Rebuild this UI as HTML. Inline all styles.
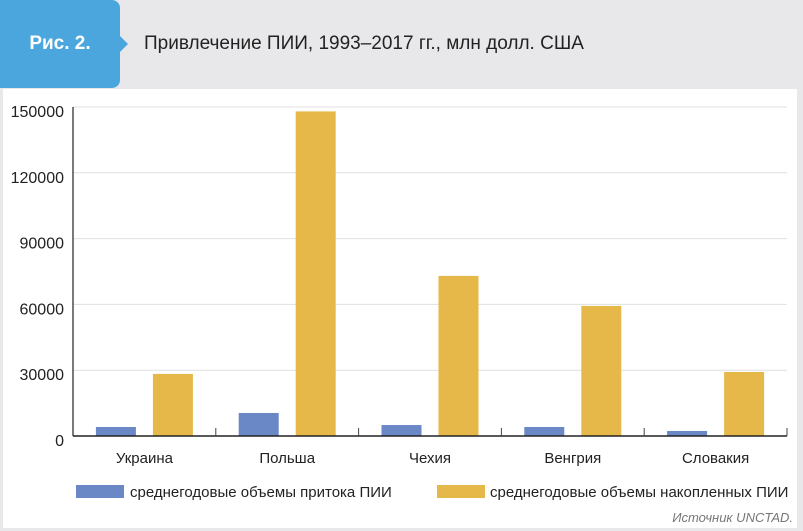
<!DOCTYPE html>
<html><head><meta charset="utf-8"><style>
body{margin:0;width:803px;height:531px;background:#e8e8ea;font-family:"Liberation Sans",sans-serif;position:relative;overflow:hidden}
#panel{position:absolute;left:3px;top:89px;width:794px;height:439px;background:#fff}
#tab{position:absolute;left:0;top:0;width:120px;height:88px;background:#4aa6dd;border-radius:0 8px 8px 0;color:#fff;font-weight:bold;font-size:19px;line-height:88px;text-align:center}
#tab:after{content:"";position:absolute;right:-8px;top:36px;border-left:8px solid #4aa6dd;border-top:8px solid transparent;border-bottom:8px solid transparent}
#title{position:absolute;left:144px;top:33px;font-size:19px;color:#222}
#src{position:absolute;right:10px;top:510px;font-size:13px;font-style:italic;color:#777}
</style></head><body>
<div id="tab">Рис. 2.</div>
<div id="title">Привлечение ПИИ, 1993–2017 гг., млн долл. США</div>
<div id="panel"></div>
<svg id="chart" width="803" height="531" style="position:absolute;left:0;top:0" font-family="Liberation Sans, sans-serif"></svg>
<div id="src">Источник UNCTAD.</div>
<script>
const categories=["Украина","Польша","Чехия","Венгрия","Словакия"];
const inflow=[4100,10500,5000,4100,2300];
const stock=[28300,148000,73000,59300,29200];
const yTicks=[0,30000,60000,90000,120000,150000];
const seriesNames=["среднегодовые объемы притока ПИИ","среднегодовые объемы накопленных ПИИ"];
const X0=73,X1=787,Y0=436,Y1=107,YMAX=150000;
const svg=document.getElementById('chart');const NS="http://www.w3.org/2000/svg";
function y(v){return Y0-(v/YMAX)*(Y0-Y1);}
const bw=(X1-X0)/categories.length;
function cx(i){return X0+bw*(i+0.5);}
function mk(t,a,txt){const e=document.createElementNS(NS,t);for(const k in a)e.setAttribute(k,a[k]);if(txt!==undefined)e.textContent=txt;svg.appendChild(e);return e;}
yTicks.forEach(t=>{
 if(t>0){const g=mk('line',{x1:X0,x2:X1,y1:y(t),y2:y(t),stroke:'#e0e0e0','stroke-width':1});
 
 }
 const l=mk('text',{x:64,y:y(t)+10,'text-anchor':'end','font-size':16,fill:'#222'},t);
 
 
});
const cols=['#6a87c6','#e6b84a'];
[inflow,stock].forEach((s,si)=>{s.forEach((v,i)=>{
 const r=mk('rect',{x:cx(i)+(si?28.5:-28.5)-20,y:y(v),width:40,height:Y0-y(v),fill:cols[si]});
 
 
});});
const ax=mk('line',{x1:X0,x2:X1,y1:Y0,y2:Y0,stroke:'#222','stroke-width':1.5});


const ay=mk('line',{x1:X0,x2:X0,y1:Y1,y2:Y0,stroke:'#222','stroke-width':1.2});


for(let i=1;i<=categories.length;i++){const t=mk('line',{x1:X0+bw*i,x2:X0+bw*i,y1:Y0-8,y2:Y0,stroke:'#444','stroke-width':1});
 
 }
categories.forEach((c,i)=>{const t=mk('text',{x:cx(i),y:463,'text-anchor':'middle','font-size':15,fill:'#222'},c);
 
 });
[[76,125],[437,485]].forEach((p,i)=>{
 const r=mk('rect',{x:p[0],y:485,width:48,height:13,fill:cols[i]});
 
 
 const t=mk('text',{x:p[1]+5,y:497,'font-size':15,fill:'#222'},seriesNames[i]);
 
 
});
</script>
</body></html>
